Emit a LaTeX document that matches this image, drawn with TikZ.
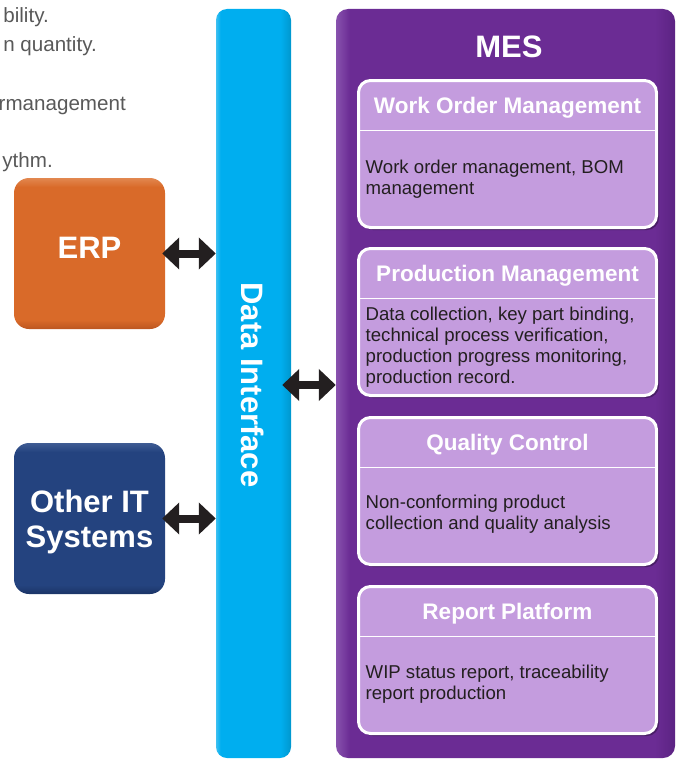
\documentclass[tikz,border=0pt]{standalone}
\usepackage{fontspec}
\setmainfont{Liberation Sans}
\usetikzlibrary{arrows.meta,shadows}
\definecolor{cyanM}{HTML}{00AEEF}
\definecolor{cyanL}{HTML}{3DC0F1}
\definecolor{cyanR}{HTML}{0097CE}
\definecolor{purM}{HTML}{6B2C94}
\definecolor{purL}{HTML}{8852AE}
\definecolor{purR}{HTML}{5C2383}
\definecolor{lav}{HTML}{C49CDE}
\definecolor{orM}{HTML}{D96A29}
\definecolor{orT}{HTML}{E2874F}
\definecolor{orB}{HTML}{BC5620}
\definecolor{blM}{HTML}{24437F}
\definecolor{blT}{HTML}{3F5C93}
\definecolor{blB}{HTML}{1B3466}
\definecolor{ink}{HTML}{231F20}
\definecolor{grayt}{HTML}{595959}
\pgfdeclarehorizontalshading{barsh}{100bp}{color(0bp)=(cyanL); color(25bp)=(cyanL); color(28bp)=(cyanM); color(68bp)=(cyanM); color(75bp)=(cyanR); color(100bp)=(cyanR)}
\pgfdeclarehorizontalshading{messh}{100bp}{color(0bp)=(purL); color(25bp)=(purL); color(27bp)=(purM); color(72bp)=(purM); color(75bp)=(purR); color(100bp)=(purR)}
\pgfdeclareverticalshading{erpsh}{100bp}{color(0bp)=(orB); color(25bp)=(orB); color(28bp)=(orM); color(72bp)=(orM); color(75bp)=(orT); color(100bp)=(orT)}
\pgfdeclareverticalshading{othsh}{100bp}{color(0bp)=(blB); color(25bp)=(blB); color(28bp)=(blM); color(72bp)=(blM); color(75bp)=(blT); color(100bp)=(blT)}
\newcommand\fbig{\fontsize{31}{35}\selectfont\bfseries}
\newcommand\fhead{\fontsize{22.5}{26}\selectfont\bfseries}
\newcommand\fbody{\fontsize{18.6}{21}\selectfont}
\newcommand\fside{\fontsize{20.6}{29}\selectfont}
\begin{document}
\begin{tikzpicture}[x=1pt,y=-1pt,
  sidetext/.style={anchor=base east, inner sep=0pt, text=grayt, font=\fside},
  barbox/.style={shading=barsh, rounded corners=11pt, minimum width=75pt, minimum height=749pt, inner sep=0pt},
  mesbox/.style={shading=messh, rounded corners=12pt, minimum width=339pt, minimum height=749pt, inner sep=0pt},
  subbox/.style={draw=white, line width=3pt, fill=lav, rounded corners=12pt, minimum width=298pt, minimum height=147pt, inner sep=0pt,
    drop shadow={shadow xshift=2.5pt, shadow yshift=-2.5pt, opacity=0.3, fill=black}},
  divl/.style={draw=white, line width=1.5pt},
  headtext/.style={anchor=base, inner sep=0pt, text=white, font=\fhead},
  bodytext/.style={anchor=base west, inner sep=0pt, text=ink, font=\fbody},
  sysbox/.style={rounded corners=15pt, minimum width=151pt, minimum height=151pt, inner sep=0pt},
  bigtext/.style={inner sep=0pt, text=white, font=\fbig},
  dbl/.style={draw=ink, line width=8pt, {Triangle[length=17pt,width=31pt]}-{Triangle[length=17pt,width=31pt]}}
]
\useasboundingbox (0,0) rectangle (678,760);
% left clipped text
\node[sidetext] (s1) at (49,23) {bility.};
\node[sidetext] (s2) at (97,52) {n quantity.};
\node[sidetext] (s3) at (126,110) {rmanagement};
\node[sidetext] (s4) at (53,167) {ythm.};
% data interface bar
\node[barbox] (bar) at (253.5,383.5) {};
\node[bigtext, rotate=-90] (dit) at (252.5,385) {Data Interface};
% MES
\node[mesbox] (mes) at (505.5,383.5) {};
\node[bigtext, anchor=base] (mest) at (509,58) {MES};
% box 1
\node[subbox] (wom) at (507.5,154) {};
\draw[divl] ([yshift=-51.5pt]wom.north west) -- ([yshift=-51.5pt]wom.north east);
\node[headtext] (womh) at ([yshift=-34.5pt]wom.north) {Work Order Management};
\node[bodytext] (womb) at ([xshift=8.5pt,yshift=-94.5pt]wom.north west) {\parbox[t]{285pt}{\raggedright Work order management, BOM\\management}};
% box 2
\node[subbox] (prm) at (507.5,322) {};
\draw[divl] ([yshift=-51.5pt]prm.north west) -- ([yshift=-51.5pt]prm.north east);
\node[headtext] (prmh) at ([yshift=-34.5pt]prm.north) {Production Management};
\node[bodytext] (prmb) at ([xshift=8.5pt,yshift=-73.5pt]prm.north west) {\parbox[t]{285pt}{\raggedright Data collection, key part binding,\\technical process verification,\\production progress monitoring,\\production record.}};
% box 3
\node[subbox] (qc) at (507.5,491) {};
\draw[divl] ([yshift=-51.5pt]qc.north west) -- ([yshift=-51.5pt]qc.north east);
\node[headtext] (qch) at ([yshift=-34.5pt]qc.north) {Quality Control};
\node[bodytext] (qcb) at ([xshift=8.5pt,yshift=-92.5pt]qc.north west) {\parbox[t]{285pt}{\raggedright Non-conforming product\\collection and quality analysis}};
% box 4
\node[subbox] (rp) at (507.5,660) {};
\draw[divl] ([yshift=-51.5pt]rp.north west) -- ([yshift=-51.5pt]rp.north east);
\node[headtext] (rph) at ([yshift=-34.5pt]rp.north) {Report Platform};
\node[bodytext] (rpb) at ([xshift=8.5pt,yshift=-93.5pt]rp.north west) {\parbox[t]{285pt}{\raggedright WIP status report, traceability\\report production}};
% systems
\node[sysbox, shading=erpsh] (erp) at (89.5,253.5) {};
\node[bigtext, anchor=base] (erpt) at (89.5,258) {ERP};
\node[sysbox, shading=othsh] (oth) at (89.5,518.5) {};
\node[bigtext, anchor=base] (otht) at (89.5,512) {\parbox[t]{150pt}{\centering Other IT\\Systems}};
% arrows
\coordinate (mesarr) at ([shift={(-9pt,-1.5pt)}]bar.east);
\draw[dbl] ([xshift=-3pt]erp.east) -- (erp.east -| bar.west);
\draw[dbl] ([xshift=-3pt]oth.east) -- (oth.east -| bar.west);
\draw[dbl] (mesarr) -- (mesarr -| mes.west);
\end{tikzpicture}
\end{document}
